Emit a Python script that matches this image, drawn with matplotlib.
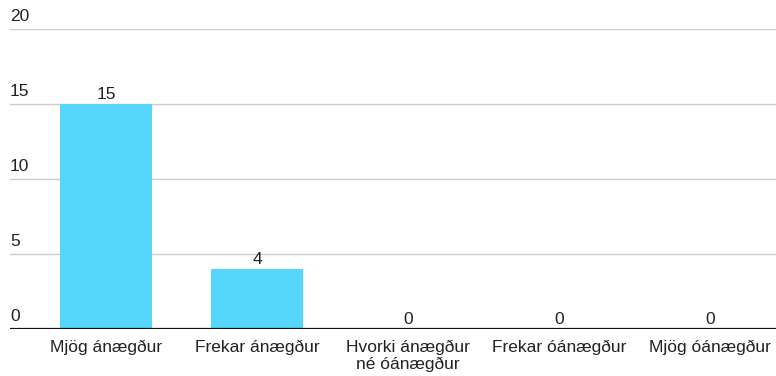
import matplotlib.pyplot as plt

plt.rcParams['font.family'] = ['Liberation Sans', 'DejaVu Sans']

# Answers and counts
categories = ['Mjög ánægður', 'Frekar ánægður', 'Hvorki ánægður\nné óánægður',
              'Frekar óánægður', 'Mjög óánægður']
counts = [15, 4, 0, 0, 0]
y_ticks = [0, 5, 10, 15, 20]

FS = 12.5

fig = plt.figure(figsize=(7.76, 3.76), dpi=100)
ax = fig.add_axes([10 / 776, 1 - 329 / 376, 766 / 776, 300 / 376])

x = range(len(categories))
ax.bar(x, counts, width=0.61, color='#55d7fd', zorder=2)

# value labels above each bar
for xi, c in zip(x, counts):
    ax.annotate(str(c), (xi, c), xytext=(0, 1.5), textcoords='offset points',
                ha='center', va='bottom', fontsize=FS, color='#222222')

# gridlines with labels sitting just above them at the left
for t in y_ticks:
    if t > 0:
        ax.axhline(t, color='#cccccc', lw=1, zorder=1)
    ax.annotate(str(t), (0, t), xycoords=('axes fraction', 'data'),
                xytext=(0, 3.5), textcoords='offset points',
                ha='left', va='bottom', fontsize=FS, color='#222222')
ax.axhline(0, color='#111111', lw=1.6, zorder=3)

ax.set_xlim(-0.636, 4.437)
ax.set_ylim(0, 20)
ax.set_yticks([])
ax.set_xticks(list(x))
ax.set_xticklabels(categories, fontsize=FS, color='#222222', linespacing=1.15)
ax.tick_params(axis='x', length=0, pad=8)
for s in ax.spines.values():
    s.set_visible(False)

fig.savefig('out.png', dpi=100)
